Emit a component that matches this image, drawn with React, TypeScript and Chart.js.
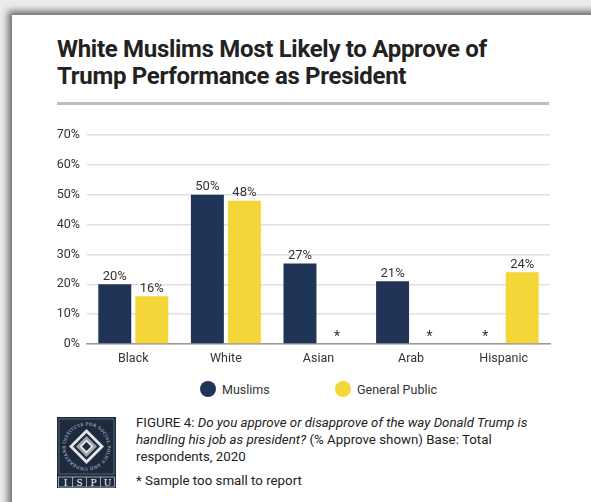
import React, { useEffect, useRef } from "react";
import { Chart, registerables } from "chart.js";

Chart.register(...registerables);

const categories = ["Black", "White", "Asian", "Arab", "Hispanic"];
const seriesNames = ["Muslims", "General Public"];
const muslims: (number | null)[] = [20, 50, 27, 21, null];
const generalPublic: (number | null)[] = [16, 48, null, null, 24];
const seriesColors = ["#1f3456", "#f4d638"];
const yMax = 70;
const yStep = 10;

const FONT = "Roboto, 'Noto Sans', sans-serif";
const TEXT = "#333333";

const valueLabels = {
  id: "valueLabels",
  afterDatasetsDraw(chart: any) {
    const ctx = chart.ctx;
    const base = chart.scales.y.getPixelForValue(0);
    ctx.save();
    ctx.fillStyle = TEXT;
    ctx.textAlign = "center";
    chart.data.datasets.forEach((ds: any, di: number) => {
      const meta = chart.getDatasetMeta(di);
      meta.data.forEach((el: any, i: number) => {
        const v = ds.data[i];
        if (v === null || v === undefined) {
          ctx.font = `14px ${FONT}`;
          ctx.textBaseline = "alphabetic";
          ctx.fillText("*", el.x, base - 3);
        } else {
          ctx.font = `13px ${FONT}`;
          ctx.textBaseline = "bottom";
          ctx.fillText(`${v}%`, el.x, el.y - 1);
        }
      });
    });
    ctx.restore();
  },
};

function Logo() {
  return (
    <svg width="59" height="71" viewBox="0 0 59 71" style={{ position: "absolute", left: 57, top: 417 }}>
      <rect x="0" y="0" width="59" height="71" fill="#1e2a3e" />
      <rect x="2" y="2" width="55" height="55" fill="none" stroke="#7d8594" strokeWidth="0.6" />
      <defs>
        <path id="ring" d="M 29.5 29.5 m -21 0 a 21 21 0 1 1 42 0 a 21 21 0 1 1 -42 0" />
      </defs>
      <text fontSize="4.2" fill="#d8dbe0" fontFamily="'DejaVu Serif', serif" letterSpacing="0.3">
        <textPath href="#ring" startOffset="2%">INSTITUTE FOR SOCIAL POLICY AND UNDERSTANDING</textPath>
      </text>
      <polygon points="29.5,12 47,29.5 29.5,47 12,29.5" fill="#e6e6e6" />
      <polygon points="29.5,16 43,29.5 29.5,43 16,29.5" fill="#1e2a3e" />
      <polygon points="29.5,19 40,29.5 29.5,40 19,29.5" fill="#9ea3ab" />
      <polygon points="29.5,22.5 36.5,29.5 29.5,36.5 22.5,29.5" fill="#e6e6e6" />
      <polygon points="29.5,25 34,29.5 29.5,34 25,29.5" fill="#1e2a3e" />
      <rect x="1.5" y="60" width="56" height="10" fill="#1e2a3e" stroke="#d8dbe0" strokeWidth="0.7" />
      {["I", "S", "P", "U"].map((c, i) => (
        <g key={c}>
          {i > 0 && <line x1={1.5 + i * 14} y1="60" x2={1.5 + i * 14} y2="70" stroke="#d8dbe0" strokeWidth="0.7" />}
          <text x={8.5 + i * 14} y="68.5" fontSize="9" fill="#ffffff" textAnchor="middle" fontFamily="'DejaVu Serif', serif">
            {c}
          </text>
        </g>
      ))}
    </svg>
  );
}

export default function App() {
  const canvasRef = useRef<HTMLCanvasElement>(null);

  useEffect(() => {
    if (!canvasRef.current) return;
    const chart = new Chart(canvasRef.current, {
      type: "bar",
      data: {
        labels: categories,
        datasets: [
          {
            label: seriesNames[0],
            data: muslims,
            backgroundColor: seriesColors[0],
            categoryPercentage: 0.8,
            barPercentage: 0.89,
          },
          {
            label: seriesNames[1],
            data: generalPublic,
            backgroundColor: seriesColors[1],
            categoryPercentage: 0.8,
            barPercentage: 0.89,
          },
        ],
      },
      options: {
        animation: false,
        responsive: false,
        maintainAspectRatio: false,
        layout: { padding: { top: 20, right: 10, left: 0, bottom: 0 } },
        plugins: { legend: { display: false }, tooltip: { enabled: false } },
        scales: {
          x: {
            grid: { display: false, drawTicks: false },
            border: { display: true, color: "#9a9a9a", width: 1.5 },
            ticks: { padding: 7, color: TEXT, font: { family: FONT, size: 12.5 } },
            afterFit: (s: any) => {
              s.height = 36;
            },
          },
          y: {
            min: 0,
            max: yMax,
            ticks: {
              stepSize: yStep,
              padding: 7,
              color: TEXT,
              font: { family: FONT, size: 12.5 },
              callback: (v: any) => `${v}%`,
            },
            grid: { color: "#e0e0e0", lineWidth: 1.5, drawTicks: false },
            border: { display: false },
            afterFit: (s: any) => {
              s.width = 47;
            },
          },
        },
      },
      plugins: [valueLabels],
    });
    return () => chart.destroy();
  }, []);

  const legendItems = seriesNames.map((n, i) => ({ name: n, color: seriesColors[i] }));
  const legendLeft = [200, 335];

  return (
    <div
      style={{
        position: "fixed",
        left: 0,
        top: 0,
        width: 591,
        height: 502,
        overflow: "hidden",
        background: "#ececec",
        fontFamily: FONT,
        color: TEXT,
      }}
    >
      <div
        style={{
          position: "absolute",
          left: 12,
          top: 15,
          width: 620,
          height: 520,
          background: "#ffffff",
          boxShadow: "-3px -3px 7px 1px rgba(0,0,0,0.55)",
        }}
      />
      <div
        style={{
          position: "absolute",
          left: 57,
          top: 36,
          width: 520,
          fontSize: 24,
          fontWeight: 700,
          lineHeight: "27px",
          color: "#222",
          letterSpacing: "-0.3px",
          whiteSpace: "nowrap",
        }}
      >
        White Muslims Most Likely to Approve of
        <br />
        Trump Performance as President
      </div>
      <div style={{ position: "absolute", left: 57, top: 102, width: 492, height: 3, background: "#bdbdbd" }} />
      <canvas
        ref={canvasRef}
        width={520}
        height={265}
        style={{ position: "absolute", left: 40, top: 115, width: 520, height: 265 }}
      />
      {legendItems.map((it, i) => (
        <div
          key={it.name}
          style={{
            position: "absolute",
            left: legendLeft[i],
            top: 380,
            height: 18,
            display: "flex",
            alignItems: "center",
            fontSize: 12.5,
            whiteSpace: "nowrap",
          }}
        >
          <span
            style={{
              display: "inline-block",
              width: 16,
              height: 16,
              borderRadius: "50%",
              background: it.color,
              marginRight: 6,
            }}
          />
          {it.name}
        </div>
      ))}
      <Logo />
      <div
        style={{
          position: "absolute",
          left: 136,
          top: 414,
          width: 430,
          fontSize: 13.3,
          lineHeight: "17px",
          color: "#222",
        }}
      >
        FIGURE 4: <i>Do you approve or disapprove of the way Donald Trump is handling his job as president?</i> (%
        Approve shown) Base: Total respondents, 2020
      </div>
      <div style={{ position: "absolute", left: 136, top: 472, fontSize: 13.3, lineHeight: "17px", color: "#222" }}>
        * Sample too small to report
      </div>
    </div>
  );
}
